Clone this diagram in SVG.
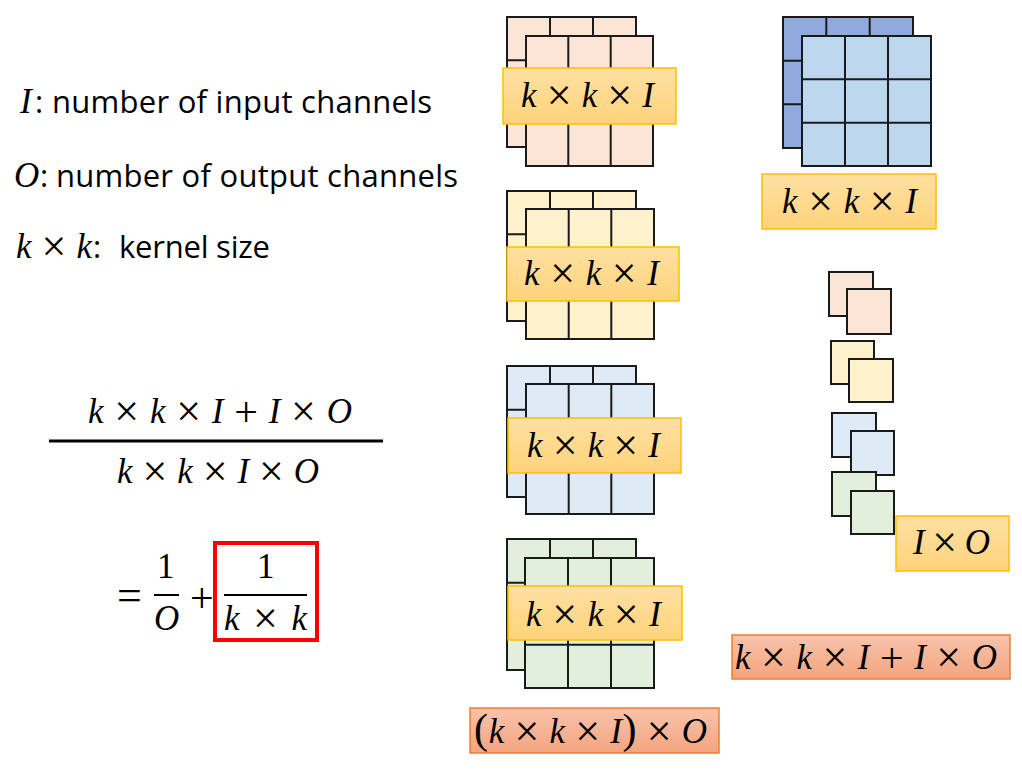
<svg xmlns="http://www.w3.org/2000/svg" width="1022" height="771" viewBox="0 0 1022 771">
<defs>
<linearGradient id="gOr" x1="0" y1="0" x2="0" y2="1"><stop offset="0" stop-color="#FFE0A3"/><stop offset="1" stop-color="#FFD37A"/></linearGradient>
<linearGradient id="gRd" x1="0" y1="0" x2="0" y2="1"><stop offset="0" stop-color="#F8C3AC"/><stop offset="1" stop-color="#F4A47F"/></linearGradient>
</defs>
<style>
.m{font-family:"Liberation Serif","DejaVu Serif",serif;font-style:italic;font-size:35px;fill:#000}
.u{font-family:"Liberation Serif","DejaVu Serif",serif;font-size:35px;fill:#000}
.x{font-style:normal;font-size:44px}
.p{font-style:normal;font-size:42px}
.s{font-family:"Open Sans","Liberation Sans",sans-serif;font-size:31px;fill:#000}
.g{stroke:#1a1a1a;stroke-width:2}
.gl{fill:none;stroke:#1a1a1a;stroke-width:2}
.lb{fill:url(#gOr);stroke:#FFC000;stroke-width:1.5}
.rb{fill:url(#gRd);stroke:#ED7D31;stroke-width:1.5}
.pe{fill:#FBE5D6}.ye{fill:#FFF2CC}.bl{fill:#DEEBF7}.gr{fill:#E2EFDA}.db{fill:#8FAADC}.lbl{fill:#BDD7EE}
</style>

<g id="legend">
<text class="m" x="20" y="113">I</text><text class="s" x="35" y="113">:</text>
<text class="s" x="52" y="113" textLength="380">number of input channels</text>
<text class="m" x="14" y="187">O</text><text class="s" x="40" y="187">:</text>
<text class="s" x="56" y="187" textLength="402">number of output channels</text>
<text class="m" x="16" y="258" textLength="76">k <tspan class="x" dy="3">×</tspan><tspan dy="-3"> k</tspan></text><text class="s" x="93" y="258">:</text>
<text class="s" x="119" y="258" textLength="151">kernel size</text>
</g>

<g id="ratio">
<text class="m" x="88" y="423" textLength="264">k <tspan class="x" dy="3">×</tspan><tspan dy="-3"> k </tspan><tspan class="x" dy="3">×</tspan><tspan dy="-3"> I </tspan><tspan class="p" dy="3">+</tspan><tspan dy="-3"> I </tspan><tspan class="x" dy="3">×</tspan><tspan dy="-3"> O</tspan></text>
<line x1="49" y1="441" x2="383" y2="441" stroke="#000" stroke-width="3"/>
<text class="m" x="117" y="483" textLength="202">k <tspan class="x" dy="3">×</tspan><tspan dy="-3"> k </tspan><tspan class="x" dy="3">×</tspan><tspan dy="-3"> I </tspan><tspan class="x" dy="3">×</tspan><tspan dy="-3"> O</tspan></text>
<text class="u" x="117" y="610" style="font-size:44px">=</text>
<text class="u" x="157" y="578">1</text>
<line x1="154" y1="595" x2="179" y2="595" stroke="#000" stroke-width="2"/>
<text class="m" x="154" y="630">O</text>
<text class="u" x="190" y="612" style="font-size:42px">+</text>
<rect x="215" y="543" width="102" height="97" fill="none" stroke="#FF0000" stroke-width="4"/>
<text class="u" x="257" y="578">1</text>
<line x1="224" y1="595" x2="307" y2="595" stroke="#000" stroke-width="2"/>
<text class="m" x="224" y="630" textLength="83">k <tspan class="x" dy="3">×</tspan><tspan dy="-3"> k</tspan></text>
</g>

<g id="filter1">
<rect class="g pe" x="507" y="17" width="129" height="130"/>
<path class="gl" d="M550 17V147M593 17V147M507 60.3H636M507 103.7H636"/>
<rect class="g pe" x="526" y="36" width="127" height="130"/>
<path class="gl" d="M568.3 36V166M610.7 36V166M526 79.3H653M526 122.7H653"/>
<rect class="lb" x="503" y="68" width="173" height="56"/>
<text class="m" x="521" y="107" textLength="133">k <tspan class="x" dy="3">×</tspan><tspan dy="-3"> k </tspan><tspan class="x" dy="3">×</tspan><tspan dy="-3"> I</tspan></text>
</g>

<g id="filter2">
<rect class="g ye" x="507" y="191" width="129" height="130"/>
<path class="gl" d="M550 191V321M593 191V321M507 234.3H636M507 277.7H636"/>
<rect class="g ye" x="526" y="209" width="128" height="130"/>
<path class="gl" d="M568.7 209V339M611.3 209V339M526 252.3H654M526 295.7H654"/>
<rect class="lb" x="507" y="247" width="172" height="54"/>
<text class="m" x="524" y="285" textLength="135">k <tspan class="x" dy="3">×</tspan><tspan dy="-3"> k </tspan><tspan class="x" dy="3">×</tspan><tspan dy="-3"> I</tspan></text>
</g>

<g id="filter3">
<rect class="g bl" x="507" y="366" width="129" height="131"/>
<path class="gl" d="M550 366V497M593 366V497M507 409.7H636M507 453.3H636"/>
<rect class="g bl" x="526" y="384" width="128" height="130"/>
<path class="gl" d="M568.7 384V514M611.3 384V514M526 427.3H654M526 470.7H654"/>
<rect class="lb" x="508" y="418" width="173" height="55"/>
<text class="m" x="527" y="457" textLength="133">k <tspan class="x" dy="3">×</tspan><tspan dy="-3"> k </tspan><tspan class="x" dy="3">×</tspan><tspan dy="-3"> I</tspan></text>
</g>

<g id="filter4">
<rect class="g gr" x="507" y="539" width="129" height="131"/>
<path class="gl" d="M550 539V670M593 539V670M507 582.7H636M507 626.3H636"/>
<rect class="g gr" x="525" y="558" width="129" height="130"/>
<path class="gl" d="M568 558V688M611 558V688M525 601.3H654M525 644.7H654"/>
<rect class="lb" x="508" y="586" width="174" height="54"/>
<text class="m" x="526" y="626" textLength="135">k <tspan class="x" dy="3">×</tspan><tspan dy="-3"> k </tspan><tspan class="x" dy="3">×</tspan><tspan dy="-3"> I</tspan></text>
</g>

<g id="total-standard">
<rect class="rb" x="470" y="708" width="249" height="45"/>
<text class="m" x="474" y="743" textLength="233"><tspan class="p">(</tspan>k <tspan class="x" dy="3">×</tspan><tspan dy="-3"> k </tspan><tspan class="x" dy="3">×</tspan><tspan dy="-3"> I</tspan><tspan class="p">)</tspan> <tspan class="x" dy="3">×</tspan><tspan dy="-3"> O</tspan></text>
</g>

<g id="depthwise">
<rect class="g db" x="783" y="17" width="130" height="131"/>
<path class="gl" d="M826.3 17V148M869.7 17V148M783 60.7H913M783 104.3H913"/>
<rect class="g lbl" x="802" y="36" width="129" height="130"/>
<path class="gl" d="M845 36V166M888 36V166M802 79.3H931M802 122.7H931"/>
<rect class="lb" x="762" y="174" width="174" height="55"/>
<text class="m" x="782" y="213" textLength="135">k <tspan class="x" dy="3">×</tspan><tspan dy="-3"> k </tspan><tspan class="x" dy="3">×</tspan><tspan dy="-3"> I</tspan></text>
</g>

<g id="pointwise">
<rect class="g pe" x="829" y="272" width="44" height="44"/>
<rect class="g pe" x="847" y="289" width="44" height="45"/>
<rect class="g ye" x="831" y="341" width="43" height="43"/>
<rect class="g ye" x="849" y="359" width="44" height="43"/>
<rect class="g bl" x="832" y="413" width="44" height="44"/>
<rect class="g bl" x="851" y="431" width="43" height="44"/>
<rect class="g gr" x="832" y="472" width="44" height="44"/>
<rect class="g gr" x="851" y="491" width="43" height="43"/>
<rect class="lb" x="896" y="516" width="113" height="55"/>
<text class="m" x="913" y="554" textLength="77">I <tspan class="x" dy="3">×</tspan><tspan dy="-3"> O</tspan></text>
</g>

<g id="total-separable">
<rect class="rb" x="732" y="635" width="278" height="44"/>
<text class="m" x="735" y="669" textLength="262">k <tspan class="x" dy="3">×</tspan><tspan dy="-3"> k </tspan><tspan class="x" dy="3">×</tspan><tspan dy="-3"> I </tspan><tspan class="p" dy="3">+</tspan><tspan dy="-3"> I </tspan><tspan class="x" dy="3">×</tspan><tspan dy="-3"> O</tspan></text>
</g>

<g id="connectors"/>
</svg>
